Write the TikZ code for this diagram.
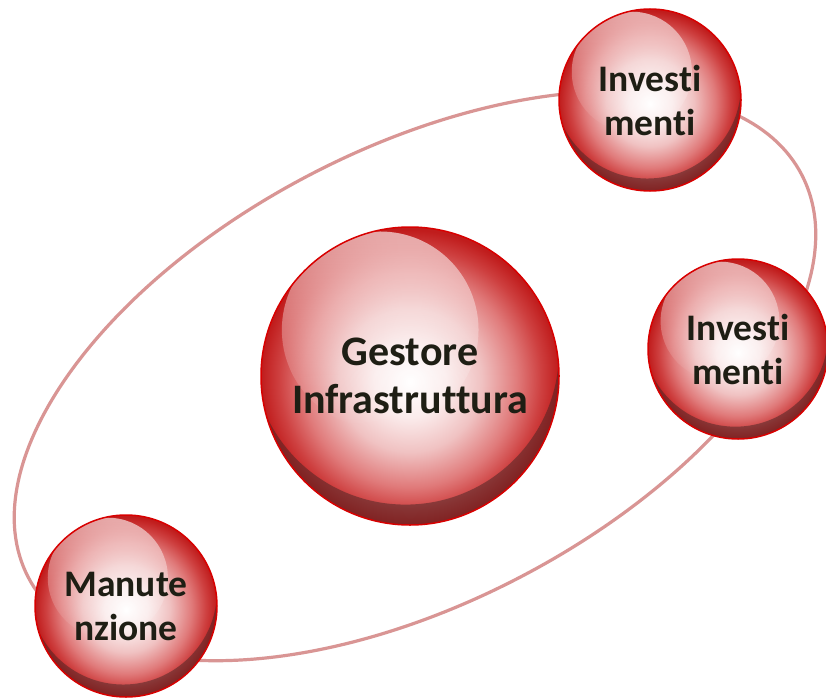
\documentclass[tikz,border=0pt]{standalone}
\usepackage{fontspec}
\setmainfont{Carlito}[Ligatures={NoCommon,NoRare,NoContextual},Contextuals=NoAlternate]
\usetikzlibrary{fadings}
\definecolor{orbit}{HTML}{D99594}
\definecolor{rimred}{HTML}{D80000}
\definecolor{darkcr}{HTML}{402424}
\definecolor{txt}{HTML}{1E1E14}
\definecolor{sA}{HTML}{FBECEC}
\definecolor{sB}{HTML}{F0C2C2}
\definecolor{sC}{HTML}{E07A7A}
\definecolor{sD}{HTML}{CE4040}
\definecolor{sE}{HTML}{C01C1C}
\pgfdeclareradialshading{sphereshade}{\pgfpoint{0bp}{-1bp}}{%
  color(0bp)=(white); color(6bp)=(sA); color(12bp)=(sB); color(18bp)=(sC);
  color(22bp)=(sD); color(25bp)=(sE); color(50bp)=(sE)}
\tikzset{
  orbitline/.style={draw=orbit, line width=3.2pt},
  rimline/.style={draw=rimred, line width=1.5pt},
  bigtext/.style={align=center, inner sep=0pt, text=txt, font=\bfseries\fontsize{42}{48}\selectfont},
  smalltext/.style={align=center, inner sep=0pt, text=txt, font=\bfseries\fontsize{37.5}{44}\selectfont}
}
\newcommand\glossy[6]{%
  \shade[shading=sphereshade] (#2,#3) circle[radius=#4pt];
  \begin{scope}
    \clip (#2,#3) circle[radius=#4pt];
    \fill[darkcr, fill opacity=0.5, even odd rule] (#2,#3) circle[radius=#4pt]
      ({#2-0.03*#4},{#3-0.167*#4}) circle[radius={1.03*#4pt}];
    \fill[white, fill opacity=0.62, path fading=south]
      ({#2-0.2*#4},{#3-0.31*#4}) circle[radius={0.66*#4pt}];
  \end{scope}
  \draw[rimline] (#2,#3) circle[radius=#4pt];
  \node[#6] (#1) at (#2,#3) {#5};
}
\begin{document}
\begin{tikzpicture}[x=1pt, y=-1pt]
  \fill[white] (0,0) rectangle (826,698);
  \useasboundingbox (0,0) rectangle (826,698);
  \coordinate (oc) at (415,376);
  \draw[orbitline, rotate around={27.5:(oc)}] (oc) ellipse[x radius=436pt, y radius=227pt];
  \glossy{gestore}{410}{376}{149}{Gestore\\Infrastruttura}{bigtext}
  \glossy{inv1}{650}{100}{91}{Invest\kern0pt i\\menti}{smalltext}
  \glossy{inv2}{738}{349}{90}{Invest\kern0pt i\\menti}{smalltext}
  \glossy{manut}{126}{606}{91}{Manute\\nzione}{smalltext}
\end{tikzpicture}
\end{document}
